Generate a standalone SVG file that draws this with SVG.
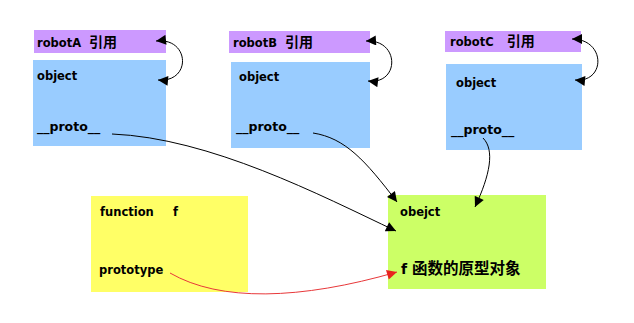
<svg xmlns="http://www.w3.org/2000/svg" width="634" height="323" viewBox="0 0 634 323">
<style>
.t{font-family:"DejaVu Sans","Noto Sans CJK SC",sans-serif;font-weight:bold;font-size:11.5px;fill:#000}
.cjk{font-family:"Noto Sans CJK SC",sans-serif;font-weight:bold;font-size:14px}
.ref{fill:#cc99ff}
.obj{fill:#99ccff}
.c{fill:none;stroke:#000;stroke-width:1}
.r{fill:none;stroke:#e8383a;stroke-width:1}
</style>
<defs>
<marker id="ah" viewBox="0 0 10 10" refX="10" refY="5" markerWidth="11" markerHeight="10" markerUnits="userSpaceOnUse" orient="auto-start-reverse">
<path d="M0,0 L10,5 L0,10 Z" fill="#000"/>
</marker>
<marker id="ahr" viewBox="0 0 10 10" refX="10" refY="5" markerWidth="11" markerHeight="10" markerUnits="userSpaceOnUse" orient="auto">
<path d="M0,0 L10,5 L0,10 Z" fill="#e8241f"/>
</marker>
</defs>
<rect width="634" height="323" fill="#fff"/>
<g id="robotA">
<rect class="ref" x="34" y="30" width="132" height="23"/>
<text class="t" x="37" y="47">robotA <tspan class="cjk" dx="4">引用</tspan></text>
<rect class="obj" x="33" y="60" width="133" height="86"/>
<text class="t" x="37" y="80">object</text>
<text class="t" x="37" y="131" style="font-size:12.5px">__proto__</text>
</g>
<g id="robotB">
<rect class="ref" x="229" y="31" width="141" height="22"/>
<text class="t" x="233" y="47">robotB <tspan class="cjk" dx="4">引用</tspan></text>
<rect class="obj" x="231" y="62" width="139" height="86"/>
<text class="t" x="239" y="81">object</text>
<text class="t" x="236" y="131" style="font-size:12.5px">__proto__</text>
</g>
<g id="robotC">
<rect class="ref" x="445" y="31" width="136" height="21"/>
<text class="t" x="450" y="46">robotC <tspan class="cjk" dx="9">引用</tspan></text>
<rect class="obj" x="446" y="64" width="136" height="86"/>
<text class="t" x="456" y="87">object</text>
<text class="t" x="451" y="134" style="font-size:12.5px">__proto__</text>
</g>
<g id="function-f">
<rect x="91" y="196" width="157" height="96" fill="#ffff66"/>
<text class="t" x="100" y="216">function</text>
<text class="t" x="173" y="216">f</text>
<text class="t" x="99" y="274">prototype</text>
</g>
<g id="prototype-object">
<rect x="388" y="195" width="158" height="94" fill="#ccff66"/>
<text class="t" x="400" y="216">obejct</text>
<text class="t" x="401" y="274" style="font-size:14px">f <tspan class="cjk" style="font-size:15.5px">函数的原型对象</tspan></text>
</g>
<g id="connectors">
<path class="c" d="M156,41 C190,37 192,83 158,80" marker-start="url(#ah)" marker-end="url(#ah)"/>
<path class="c" d="M366,41 C400,39 400,85 368,81" marker-start="url(#ah)" marker-end="url(#ah)"/>
<path class="c" d="M572,39 C606,39 606,83 575,80" marker-start="url(#ah)" marker-end="url(#ah)"/>
<path class="c" d="M112,134 C210,138 320,195 396,231" marker-end="url(#ah)"/>
<path class="c" d="M313,133 C345,138 365,160 397,202" marker-end="url(#ah)"/>
<path class="c" d="M483,138 C495,150 490,175 475,207" marker-end="url(#ah)"/>
<path class="r" d="M170,273 C220,302 300,300 397,272" marker-end="url(#ahr)"/>
</g>
</svg>
